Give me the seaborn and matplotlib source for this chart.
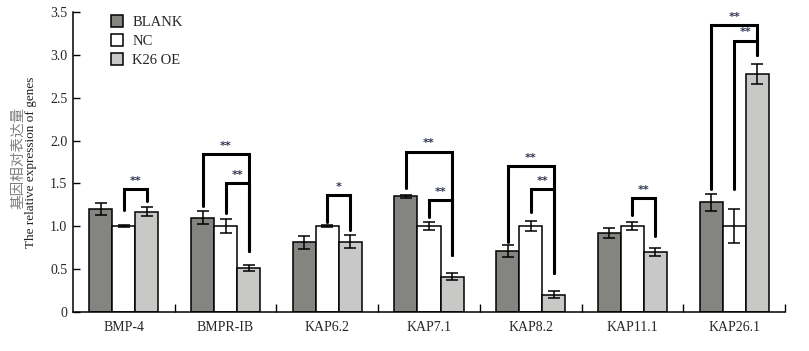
import numpy as np
import pandas as pd
import matplotlib
matplotlib.use('Agg')
import matplotlib.pyplot as plt
import seaborn as sns

# 数据
genes = ['BMP-4', 'BMPR-IB', 'KAP6.2', 'KAP7.1', 'KAP8.2', 'KAP11.1', 'KAP26.1']
groups = ['BLANK', 'NC', 'K26 OE']
blank = [1.20, 1.10, 0.81, 1.35, 0.71, 0.92, 1.28]
blank_err = [0.075, 0.075, 0.08, 0.02, 0.065, 0.06, 0.10]
nc = [1.00, 1.00, 1.00, 1.00, 1.00, 1.00, 1.00]
nc_err = [0.01, 0.08, 0.015, 0.05, 0.055, 0.045, 0.20]
k26 = [1.17, 0.51, 0.82, 0.41, 0.20, 0.70, 2.78]
k26_err = [0.05, 0.04, 0.075, 0.045, 0.045, 0.05, 0.115]

# 显著性标注: (基因序号, 左组, 右组, 左腿底, 顶, 右腿底, 星号)
sig_marks = [
    (0, 1, 2, 1.19, 1.43, 1.29, '**'),
    (1, 0, 2, 1.24, 1.84, 0.71, '**'),
    (1, 1, 2, 1.15, 1.50, 0.71, '**'),
    (2, 1, 2, 1.05, 1.36, 0.955, '*'),
    (3, 0, 2, 1.45, 1.87, 0.66, '**'),
    (3, 1, 2, 1.11, 1.30, 0.66, '**'),
    (4, 0, 2, 0.81, 1.70, 0.45, '**'),
    (4, 1, 2, 1.16, 1.43, 0.45, '**'),
    (5, 1, 2, 1.13, 1.33, 0.88, '**'),
    (6, 0, 2, 1.44, 3.35, 3.00, '**'),
    (6, 1, 2, 1.43, 3.17, 3.00, '**'),
]

df = pd.DataFrame({
    'gene': genes * 3,
    'group': [g for g in groups for _ in genes],
    'value': blank + nc + k26,
    'err': blank_err + nc_err + k26_err,
})

sns.set_style('ticks')
plt.rcParams['font.family'] = ['Liberation Serif', 'Noto Sans CJK SC']

colors = ['#858580', '#ffffff', '#c8c8c6']
fig = plt.figure(figsize=(8.09, 3.51), dpi=100)
ax = fig.add_axes([73 / 809, 1 - 311.7 / 351, 712 / 809, 299.4 / 351])

sns.barplot(data=df, x='gene', y='value', hue='group', order=genes,
            hue_order=groups, palette=colors, width=0.68, errorbar=None,
            edgecolor='black', linewidth=1.1, ax=ax)

# 误差线
bar_conts = list(ax.containers)
centers = {}
for gi, cont in enumerate(bar_conts):
    sub = df[df['group'] == groups[gi]]
    xs = [b.get_x() + b.get_width() / 2 for b in cont]
    for ci, x in enumerate(xs):
        centers[(ci, gi)] = x
    ax.errorbar(xs, sub['value'], yerr=sub['err'], fmt='none',
                ecolor='black', elinewidth=1.1, capsize=4.5, capthick=1.1,
                zorder=5)

# 显著性括号
for ci, g1, g2, y1, ytop, y2, star in sig_marks:
    x1 = centers[(ci, g1)]
    x2 = centers[(ci, g2)]
    ax.plot([x1, x1, x2, x2], [y1, ytop, ytop, y2], color='black',
            lw=2.2, solid_joinstyle='miter', zorder=6)
    ax.text((x1 + x2) / 2, ytop + 0.04, star, ha='center', va='bottom',
            fontsize=8, color='#2e3550', family='DejaVu Sans',
            fontweight='bold')

ax.set_xlim(-0.5, len(genes) - 0.5)
ax.set_ylim(0, 3.5)
ax.set_yticks(np.arange(0, 3.51, 0.5))
ax.set_yticklabels(['0'] + [f'{v:.1f}' for v in np.arange(0.5, 3.51, 0.5)])
ax.set_xticks(range(len(genes)))
ax.set_xticklabels(genes)
ax.set_xticks(np.arange(0.5, len(genes), 1.0), minor=True)
ax.tick_params(axis='x', which='major', length=0, labelsize=10, pad=7)
ax.tick_params(axis='x', which='minor', direction='in', length=6,
               width=1, color='black')
ax.tick_params(axis='y', direction='in', length=5, width=1,
               color='black', labelsize=10, pad=4)
ax.set_xlabel('')
ax.set_ylabel('')
for side in ['top', 'right']:
    ax.spines[side].set_visible(False)
for side in ['left', 'bottom']:
    ax.spines[side].set_color('black')
    ax.spines[side].set_linewidth(1.1)

# 纵轴标题 (两行)
fig.text(18 / 809, 1 - 158 / 351, '基因相对表达量', rotation=90,
         ha='center', va='center', fontsize=10.5, color='#808080',
         family=['Noto Sans CJK SC'])
fig.text(31 / 809, 1 - 162 / 351, 'The relative expression of genes',
         rotation=90, ha='center', va='center', fontsize=9.5,
         color='#202020')

leg = ax.legend(loc='upper left', bbox_to_anchor=(0.035, 1.035),
                frameon=False, fontsize=10.5, handlelength=0.85,
                handleheight=0.85, handletextpad=0.6, labelspacing=0.35)
for h in leg.legend_handles:
    h.set_edgecolor('black')
    h.set_linewidth(1.1)

fig.savefig('out.png', dpi=100)
